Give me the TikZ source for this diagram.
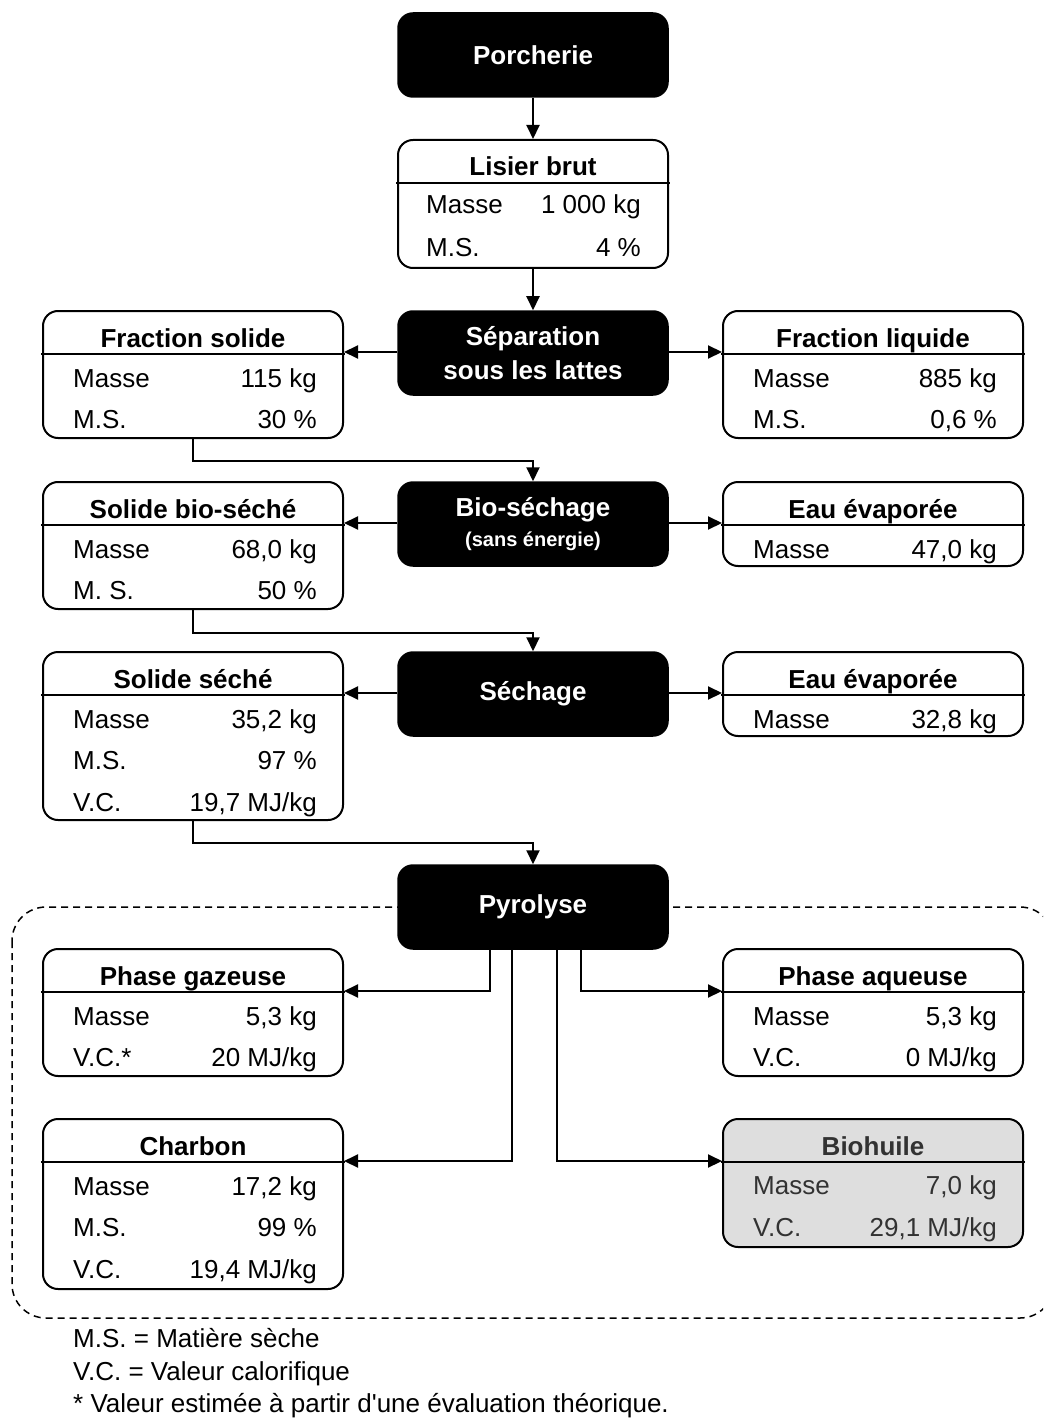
\documentclass[tikz,border=0pt]{standalone}
\usepackage{fontspec}
\setmainfont{Liberation Sans}
\usetikzlibrary{arrows.meta,calc}
\definecolor{biogray}{RGB}{222,222,222}
\definecolor{biotext}{RGB}{50,50,50}
\tikzset{
  blk/.style={draw=black, fill=black, rounded corners=15pt, minimum width=270pt, minimum height=84pt,
    text=white, font=\bfseries\fontsize{26}{34}\selectfont, align=center, line width=1.5pt, inner sep=0pt},
  databox/.style={draw=black, rounded corners=15pt, line width=2pt, inner sep=0pt, fill=white},
  ttl/.style={font=\bfseries\fontsize{26}{30}\selectfont, anchor=base, inner sep=0pt},
  lbl/.style={font=\fontsize{26}{30}\selectfont, anchor=base west, inner sep=0pt},
  val/.style={font=\fontsize{26}{30}\selectfont, anchor=base east, inner sep=0pt},
  hdr/.style={line width=2.5pt},
  con/.style={line width=2pt, -{Triangle[length=14pt,width=13pt]}},
  dashbox/.style={line width=1.5pt, dash pattern=on 7pt off 5pt, rounded corners=34pt},
}
% name, cx, top, height, width, title
\newcommand{\mkdatabox}[6]{%
  \node[databox, minimum width=#5pt, minimum height=#4pt] (#1) at (#2, #3+#4/2) {};
  \draw[hdr] (#2-#5/2-2, #3+43) -- (#2+#5/2+2, #3+43);
  \node[ttl] (#1-t) at (#2, #3+36) {#6};
}
% name, left x, right x, baseline, label, value
\newcommand{\mkrow}[6]{%
  \node[lbl] (#1-l) at (#2,#4) {#5};
  \node[val] (#1-v) at (#3,#4) {#6};
}
\begin{document}
\begin{tikzpicture}[x=1pt,y=-1pt]
\useasboundingbox (0,0) rectangle (1043,1420);
\clip (0,0) rectangle (1043,1420);

% dashed region
\draw[dashbox] (12,907) rectangle (1054,1318);

% black process boxes
\node[blk] (porch) at (533,55) {Porcherie};
\node[blk] (sep) at (533,353) {Séparation\\sous les lattes};
\node[blk] (bio) at (533,524) {Bio-séchage\\[-4pt]{\fontsize{20}{24}\selectfont (sans énergie)}};
\node[blk] (sech) at (533,694) {Séchage};
\node[blk] (pyro) at (533,907) {Pyrolyse};

% Lisier brut
\mkdatabox{lis}{533}{140}{128}{270}{Lisier brut}
\mkrow{lis1}{426}{641}{214}{Masse}{1 000 kg}
\mkrow{lis2}{426}{641}{257}{M.S.}{4 \%}

% Fraction solide
\mkdatabox{fsol}{193}{311}{127}{300}{Fraction solide}
\mkrow{fsol1}{73}{317}{387}{Masse}{115 kg}
\mkrow{fsol2}{73}{317}{428}{M.S.}{30 \%}

% Fraction liquide
\mkdatabox{fliq}{873}{311}{127}{300}{Fraction liquide}
\mkrow{fliq1}{753}{997}{387}{Masse}{885 kg}
\mkrow{fliq2}{753}{997}{428}{M.S.}{0,6 \%}

% Solide bio-séché
\mkdatabox{sbs}{193}{482}{127}{300}{Solide bio-séché}
\mkrow{sbs1}{73}{317}{558}{Masse}{68,0 kg}
\mkrow{sbs2}{73}{317}{599}{M. S.}{50 \%}

% Eau évaporée 1
\mkdatabox{eau1}{873}{482}{84}{300}{Eau évaporée}
\mkrow{eau1a}{753}{997}{558}{Masse}{47,0 kg}

% Solide séché
\mkdatabox{ssec}{193}{652}{168}{300}{Solide séché}
\mkrow{ssec1}{73}{317}{728}{Masse}{35,2 kg}
\mkrow{ssec2}{73}{317}{769}{M.S.}{97 \%}
\mkrow{ssec3}{73}{317}{811}{V.C.}{19,7 MJ/kg}

% Eau évaporée 2
\mkdatabox{eau2}{873}{652}{84}{300}{Eau évaporée}
\mkrow{eau2a}{753}{997}{728}{Masse}{32,8 kg}

% Phase gazeuse
\mkdatabox{gaz}{193}{949}{127}{300}{Phase gazeuse}
\mkrow{gaz1}{73}{317}{1025}{Masse}{5,3 kg}
\mkrow{gaz2}{73}{317}{1066}{V.C.*}{20 MJ/kg}

% Phase aqueuse
\mkdatabox{aq}{873}{949}{127}{300}{Phase aqueuse}
\mkrow{aq1}{753}{997}{1025}{Masse}{5,3 kg}
\mkrow{aq2}{753}{997}{1066}{V.C.}{0 MJ/kg}

% Charbon
\mkdatabox{char}{193}{1119}{170}{300}{Charbon}
\mkrow{char1}{73}{317}{1195}{Masse}{17,2 kg}
\mkrow{char2}{73}{317}{1236}{M.S.}{99 \%}
\mkrow{char3}{73}{317}{1278}{V.C.}{19,4 MJ/kg}

% Biohuile (shaded)
\node[databox, fill=biogray, minimum width=300pt, minimum height=128pt] (bh) at (873,1183) {};
\draw[hdr] (721,1162) -- (1025,1162);
\begin{scope}[text=biotext]
\node[ttl] (bh-t) at (873,1155) {Biohuile};
\mkrow{bh1}{753}{997}{1194}{Masse}{7,0 kg}
\mkrow{bh2}{753}{997}{1236}{V.C.}{29,1 MJ/kg}
\end{scope}

% connection points on header lines
\coordinate (fsolin) at ($(fsol.north east)+(0,42)$);
\coordinate (fliqin) at ($(fliq.north west)+(0,42)$);
\coordinate (sbsin) at ($(sbs.north east)+(0,42)$);
\coordinate (eau1in) at ($(eau1.north west)+(0,42)$);
\coordinate (ssecin) at ($(ssec.north east)+(0,42)$);
\coordinate (eau2in) at ($(eau2.north west)+(0,42)$);
\coordinate (gazin) at ($(gaz.north east)+(0,43)$);
\coordinate (aqin) at ($(aq.north west)+(0,43)$);
\coordinate (charin) at ($(char.north east)+(0,43)$);
\coordinate (bhin) at ($(bh.north west)+(0,43)$);

% connectors
\draw[con] (porch.south) -- (lis.north);
\draw[con] (lis.south) -- (sep.north);
\draw[con] (sep.west |- fsolin) -- (fsolin);
\draw[con] (sep.east |- fliqin) -- (fliqin);
\draw[con] (fsol.south) -- ++(0,22) -| (bio.north);
\draw[con] (bio.west |- sbsin) -- (sbsin);
\draw[con] (bio.east |- eau1in) -- (eau1in);
\draw[con] (sbs.south) -- ++(0,23) -| (sech.north);
\draw[con] (sech.west |- ssecin) -- (ssecin);
\draw[con] (sech.east |- eau2in) -- (eau2in);
\draw[con] (ssec.south) -- ++(0,22) -| (pyro.north);
\draw[con] ([xshift=-43pt]pyro.south) |- (gazin);
\draw[con] ([xshift=-21pt]pyro.south) |- (charin);
\draw[con] ([xshift=24pt]pyro.south) |- (bhin);
\draw[con] ([xshift=48pt]pyro.south) |- (aqin);

% legend
\node[lbl] (leg1) at (73,1347) {M.S. = Matière sèche};
\node[lbl] (leg2) at (73,1380) {V.C. = Valeur calorifique};
\node[lbl] (leg3) at (73,1412) {* Valeur estimée à partir d\textquotesingle une évaluation théorique.};
\end{tikzpicture}
\end{document}
